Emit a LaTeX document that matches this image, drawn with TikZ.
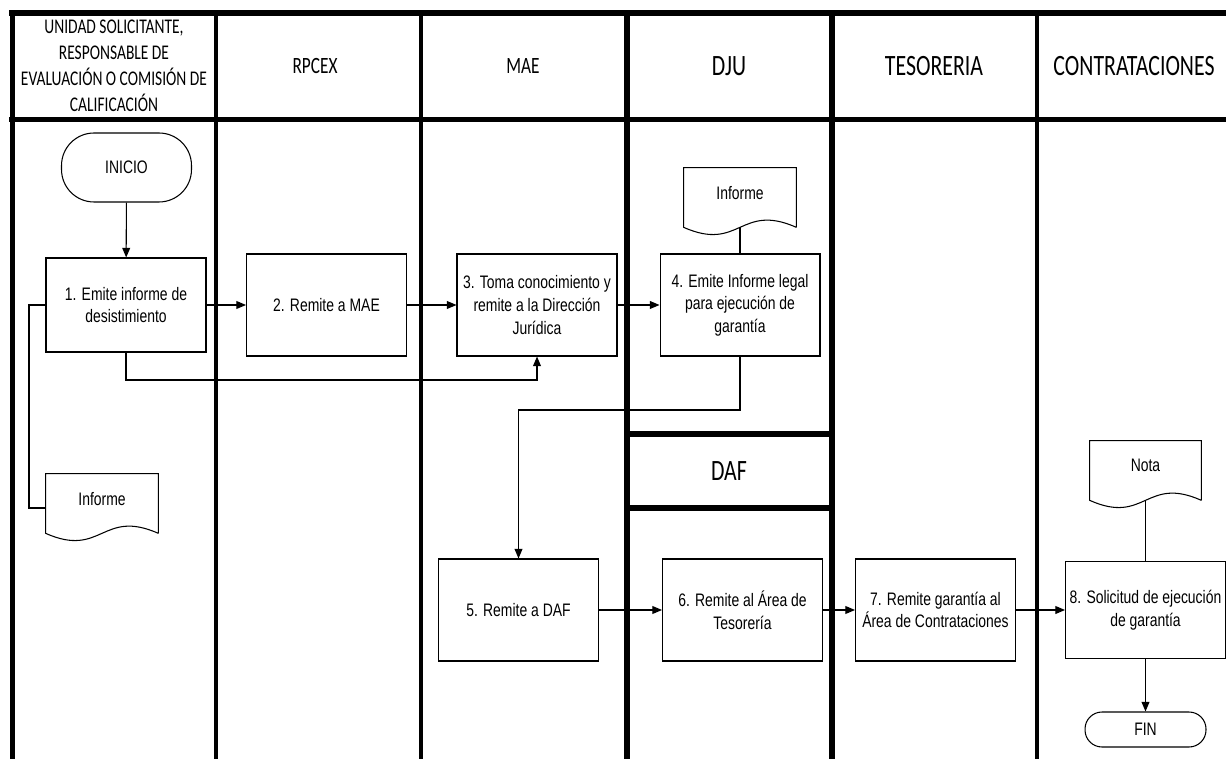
\documentclass[tikz,border=0pt]{standalone}
\usepackage{fontspec}
\setmainfont{Liberation Sans}
\newfontfamily\boxfont[FakeStretch=0.77]{Liberation Sans}
\newfontfamily\lanefont[FakeStretch=0.74]{Carlito}
\usepackage{tikz}
\usetikzlibrary{arrows.meta,positioning}

\begin{document}
\begin{tikzpicture}[x=0.02cm,y=-0.02cm]
	\useasboundingbox (0,0) rectangle (1226,759);
	\begin{scope}
		[
			lane/.style={line width=2.8pt, line cap=rect},
			laneDju/.style={line width=3.2pt, line cap=rect},
			laneTitle/.style={font=\lanefont\fontsize{16.8}{20}\selectfont},
			laneTitleSmall/.style={font=\lanefont\fontsize{13.3}{16}\selectfont, align=center},
		]
		% lanes
		\draw[lane, line width=3.6pt] (12,13) -- (1230,13);
		\draw[lane, line width=3.2pt] (12,119.5) -- (1230,119.5);
		\draw[lane] (12.5,13) -- (12.5,765);
		\foreach \x in {216,421,1037}
			\draw[lane] (\x,13) -- (\x,765);
		\draw[laneDju] (627,13) -- (627,765);
		\draw[laneDju] (832,13) -- (832,765);
		\draw[laneDju] (627,434) -- (832,434);
		\draw[laneDju] (627,508) -- (832,508);

		\node(hUnidad)[laneTitleSmall, font=\lanefont\fontsize{11.9}{14.8}\selectfont] at (114,66)
			{UNIDAD SOLICITANTE,\\RESPONSABLE DE\\EVALUACIÓN O COMISIÓN DE\\CALIFICACIÓN};
		\node(hRpcex)[laneTitleSmall] at (315,66) {RPCEX};
		\node(hMae)[laneTitleSmall] at (523,66) {MAE};
		\node(hDju)[laneTitle] at (729,66) {DJU};
		\node(hTeso)[laneTitle] at (934,66) {TESORERIA};
		\node(hContra)[laneTitle] at (1134,66) {CONTRATACIONES};
		\node(hDaf)[laneTitle] at (729,471) {DAF};
	\end{scope}
	\begin{scope}
		[
			proc/.style={draw, line width=0.6pt, minimum width=3.2cm, minimum height=2.04cm,
				inner sep=0pt, align=center, font=\boxfont\fontsize{10.3}{12.9}\selectfont},
			term/.style={draw, line width=0.6pt, inner sep=0pt, font=\boxfont\fontsize{10.3}{12.9}\selectfont},
			docu/.style={minimum width=2.24cm, minimum height=1.18cm, inner sep=0pt,
				text depth=0.2cm, font=\boxfont\fontsize{10.3}{12.9}\selectfont},
		]
		\node(inicio)[term, minimum width=2.6cm, minimum height=1.38cm, rounded corners=0.65cm] at (126.5,167.5) {INICIO};
		\node(p1)[proc, minimum height=1.88cm] at (126,305) {1. Emite informe de\\desistimiento};
		\node(p2)[proc] at (326.5,305) {2. Remite a MAE};
		\node(p3)[proc] at (537,305) {3. Toma conocimiento y\\remite a la Dirección\\Jurídica};
		\node(p4)[proc] at (740,305) {4. Emite Informe legal\\para ejecución de\\garantía};
		\node(p5)[proc] at (518.5,610) {5. Remite a DAF};
		\node(p6)[proc] at (742.5,610) {6. Remite al Área de\\Tesorería};
		\node(p7)[proc] at (935.5,610) {7. Remite garantía al\\Área de Contrataciones};
		\node(p8)[proc, minimum height=1.94cm] at (1145.5,610) {8. Solicitud de ejecución\\de garantía};
		\node(fin)[term, minimum width=2.42cm, minimum height=0.7cm, rounded corners=0.34cm] at (1145.5,729.5) {FIN};

		\node(infA)[docu] at (102,503.5) {Informe};
		\node(infB)[docu] at (740,197.5) {Informe};
		\node(nota)[docu, minimum width=2.22cm] at (1145.5,470.5) {Nota};
		\foreach \d in {infA,infB,nota}
			\draw[line width=0.6pt] (\d.south east) -- (\d.north east) -- (\d.north west) -- (\d.south west)
				.. controls ([yshift=-0.5cm]\d.south) and ([yshift=0.5cm]\d.south) .. (\d.south east);

		\coordinate(b1) at (126,380);
		\coordinate(b2) at (29,508);
		\coordinate(b3) at (518.5,410);
	\end{scope}
	\begin{scope}
		[ flow/.style = {-{Triangle[length=5.5pt,width=4.5pt]}},
		line width=0.6pt]
		\path
		(inicio) edge[flow]       	(p1)
		(p1) edge[flow]             (p2)
		(p2) edge[flow]             (p3)
		(p3) edge[flow]             (p4)
		(infB) edge                 (p4)
		(p5) edge[flow]             (p6)
		(p6) edge[flow]             (p7)
		(p7) edge[flow]             (p8)
		(nota) edge                 (p8)
		(p8) edge[flow]             (fin);

		\draw[flow] (p1.south) -- (b1) -| (p3.south);
		\draw (p1.west) -| (b2) -- (b2 -| infA.west);
		\draw[flow] (p4.south) |- (b3) -- (p5.north);
	\end{scope}
\end{tikzpicture}
\end{document}
